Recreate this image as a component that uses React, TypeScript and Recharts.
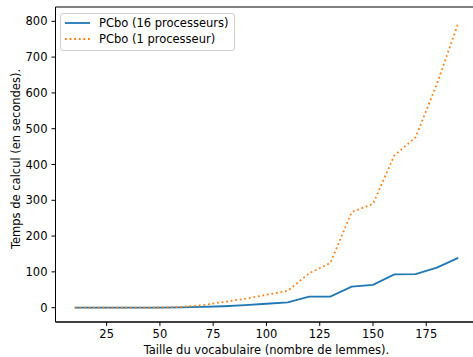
import React from 'react';
import { LineChart, Line, XAxis, YAxis, Legend, ReferenceArea } from 'recharts';

// ─── Data ─────────────────────────────────────────────────────────────────────

const VOCAB_SIZES = [10, 20, 30, 40, 50, 60, 70, 80, 90, 100, 110, 120, 130, 140, 150, 160, 170, 180, 190];
const TIME_16_PROC = [0, 0, 0, 0, 0.3, 0.8, 2, 4, 7, 11, 15, 31, 31, 59, 64, 93, 94, 112, 139];
const TIME_1_PROC = [0, 0, 0, 0.2, 0.5, 2, 7, 16, 25, 36, 47, 96, 125, 267, 290, 425, 476, 625, 795];

const SERIES_NAMES = ['PCbo (16 processeurs)', 'PCbo (1 processeur)'];
const X_TICKS = [25, 50, 75, 100, 125, 150, 175];
const Y_TICKS = [0, 100, 200, 300, 400, 500, 600, 700, 800];

const X_LABEL = 'Taille du vocabulaire (nombre de lemmes).';
const Y_LABEL = 'Temps de calcul (en secondes).';

// ─── Style ────────────────────────────────────────────────────────────────────

const FONT = '"DejaVu Sans", sans-serif';
const FONT_SIZE = 11.5;
const COLORS = ['#1f77b4', '#ff7f0e'];
const DASHES = [undefined, '1.8 2.8'];

const data = VOCAB_SIZES.map((taille, i) => ({
  taille,
  p16: TIME_16_PROC[i],
  p1: TIME_1_PROC[i],
}));

// ─── Legend (kept in plotting order, not sorted) ──────────────────────────────

function LegendBox(): React.ReactElement {
  return (
    <div
      style={{
        border: '1px solid #d0d0d0',
        borderRadius: 3,
        background: 'rgba(255,255,255,0.8)',
        padding: '1px 5px 3px 4px',
        fontFamily: FONT,
        fontSize: FONT_SIZE,
        color: '#000',
        whiteSpace: 'nowrap',
      }}
    >
      {SERIES_NAMES.map((name, i) => (
        <div key={`leg-${i}`} style={{ display: 'flex', alignItems: 'center', height: 16 }}>
          <svg width={25} height={10} style={{ marginRight: 9 }}>
            <line
              x1={0}
              y1={5}
              x2={25}
              y2={5}
              stroke={COLORS[i]}
              strokeWidth={1.8}
              strokeDasharray={DASHES[i]}
            />
          </svg>
          <span>{name}</span>
        </div>
      ))}
    </div>
  );
}

// ─── Y label (rotated, centred on the axis) ───────────────────────────────────

function YLabel({ viewBox }: any): React.ReactElement {
  const cx = 20;
  const cy = viewBox.y + viewBox.height / 2 - 5.5;
  return (
    <text
      x={cx}
      y={cy}
      transform={`rotate(-90, ${cx}, ${cy})`}
      textAnchor="middle"
      fontFamily={FONT}
      fontSize={FONT_SIZE}
      fill="#000"
    >
      {Y_LABEL}
    </text>
  );
}

// ─── Component ────────────────────────────────────────────────────────────────

export default function App(): React.ReactElement {
  const tick = { fill: '#000', fontSize: FONT_SIZE, fontFamily: FONT };
  return (
    <div
      style={{
        position: 'absolute',
        left: 0,
        top: 0,
        width: 473,
        height: 357,
        overflow: 'hidden',
        background: '#fff',
      }}
    >
      <LineChart width={490} height={357} data={data} margin={{ top: 7, right: 12.6, bottom: 0, left: 0 }}>
        <ReferenceArea x1={1} x2={199} y1={-40} y2={840} fill="none" stroke="#000" strokeWidth={1} />
        <XAxis
          dataKey="taille"
          type="number"
          domain={[1, 199]}
          ticks={X_TICKS}
          height={35}
          tickSize={4}
          tickMargin={4}
          stroke="#000"
          tick={tick}
          label={{ value: X_LABEL, position: 'insideBottom', offset: 3, fill: '#000', fontSize: FONT_SIZE, fontFamily: FONT }}
        />
        <YAxis
          type="number"
          domain={[-40, 840]}
          ticks={Y_TICKS}
          width={55.5}
          tickSize={4}
          tickMargin={4}
          stroke="#000"
          tick={tick}
          label={<YLabel />}
        />
        <Legend
          layout="vertical"
          align="center"
          verticalAlign="middle"
          wrapperStyle={{ left: 60, top: 13, width: 'auto' }}
          content={<LegendBox />}
        />
        <Line
          dataKey="p16"
          name={SERIES_NAMES[0]}
          stroke={COLORS[0]}
          strokeWidth={1.8}
          dot={false}
          activeDot={false}
          isAnimationActive={false}
        />
        <Line
          dataKey="p1"
          name={SERIES_NAMES[1]}
          stroke={COLORS[1]}
          strokeWidth={1.8}
          strokeDasharray={DASHES[1]}
          dot={false}
          activeDot={false}
          isAnimationActive={false}
        />
      </LineChart>
    </div>
  );
}
